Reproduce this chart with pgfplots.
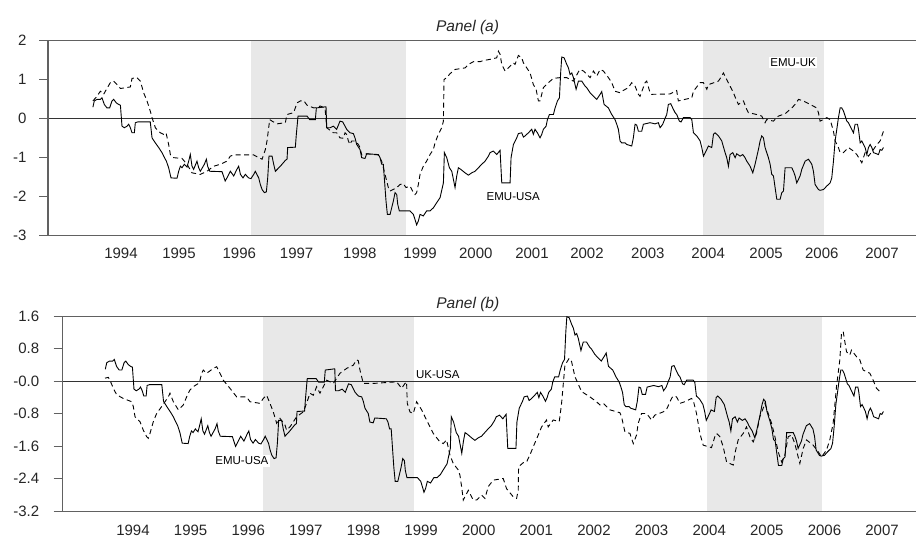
\documentclass[border=0pt]{standalone}
\usepackage{fontspec}
\setmainfont{Liberation Sans}
\usepackage{pgfplots}
\usepackage{pgfplotstable}
\pgfplotsset{compat=1.18}
\definecolor{shadegray}{gray}{0.91}
\definecolor{framegray}{gray}{0.38}

\pgfplotstableread{
x y
1993.52 0.29
1993.544 0.45
1993.59 0.49
1993.647 0.49
1993.675 0.53
1993.715 0.36
1993.76 0.27
1993.806 0.27
1993.846 0.45
1993.875 0.49
1993.92 0.40
1993.96 0.36
1993.99 0.34
1994.017 -0.20
1994.057 -0.24
1994.103 -0.20
1994.131 -0.15
1994.16 -0.24
1994.188 -0.37
1994.228 -0.37
1994.245 -0.11
1994.285 -0.09
1994.50 -0.09
1994.53 -0.50
1994.587 -0.63
1994.644 -0.75
1994.70 -0.88
1994.729 -0.97
1994.775 -1.10
1994.814 -1.27
1994.854 -1.53
1994.957 -1.54
1994.985 -1.36
1995.014 -1.23
1995.042 -1.27
1995.082 -1.18
1995.128 -1.25
1995.156 -1.10
1995.184 -0.93
1995.213 -1.23
1995.241 -1.31
1995.298 -1.10
1995.327 -1.27
1995.355 -1.36
1995.424 -1.18
1995.458 -1.05
1995.48 -1.23
1995.515 -1.36
1995.725 -1.37
1995.78 -1.61
1995.81 -1.53
1995.868 -1.36
1995.925 -1.48
1995.98 -1.31
1996.01 -1.23
1996.04 -1.44
1996.084 -1.53
1996.124 -1.44
1996.18 -1.53
1996.22 -1.55
1996.267 -1.44
1996.295 -1.36
1996.352 -1.53
1996.38 -1.70
1996.41 -1.83
1996.449 -1.91
1996.483 -1.89
1996.506 -1.53
1996.528 -0.97
1996.58 -0.97
1996.608 -1.18
1996.637 -1.36
1996.722 -1.23
1996.807 -1.08
1996.836 -1.05
1996.847 -0.75
1996.978 -0.74
1996.995 -0.41
1997.024 0.06
1997.178 0.06
1997.223 -0.03
1997.32 -0.03
1997.337 0.27
1997.502 0.30
1997.514 -0.24
1997.57 -0.24
1997.628 -0.20
1997.684 -0.28
1997.741 -0.07
1997.787 -0.09
1997.827 -0.20
1997.855 -0.28
1997.912 -0.37
1997.969 -0.39
1997.997 -0.50
1998.026 -0.67
1998.083 -0.80
1998.111 -1.01
1998.168 -1.03
1998.197 -0.91
1998.396 -0.93
1998.425 -1.01
1998.453 -1.18
1998.481 -1.18
1998.51 -1.78
1998.527 -2.13
1998.55 -2.47
1998.596 -2.47
1998.624 -2.30
1998.652 -2.13
1998.681 -1.91
1998.71 -1.96
1998.727 -2.21
1998.755 -2.38
1998.937 -2.38
1998.994 -2.47
1999.022 -2.60
1999.05 -2.74
1999.079 -2.64
1999.108 -2.47
1999.164 -2.51
1999.221 -2.38
1999.278 -2.38
1999.336 -2.30
1999.392 -2.17
1999.45 -2.04
1999.507 -1.66
1999.524 -0.88
1999.564 -1.01
1999.61 -1.27
1999.65 -1.36
1999.678 -1.57
1999.706 -1.78
1999.735 -1.48
1999.763 -1.27
1999.803 -1.31
1999.877 -1.40
1999.934 -1.46
1999.991 -1.40
2000.048 -1.36
2000.105 -1.27
2000.162 -1.18
2000.219 -1.10
2000.276 -0.97
2000.304 -0.88
2000.361 -0.84
2000.418 -0.93
2000.475 -0.82
2000.504 -1.66
2000.646 -1.66
2000.663 -1.01
2000.703 -0.67
2000.76 -0.50
2000.788 -0.39
2000.845 -0.37
2000.874 -0.48
2000.902 -0.45
2000.959 -0.37
2001.016 -0.28
2001.044 -0.41
2001.072 -0.28
2001.113 -0.37
2001.158 -0.50
2001.187 -0.41
2001.215 -0.28
2001.261 -0.20
2001.284 -0.03
2001.318 0.10
2001.386 0.10
2001.415 0.27
2001.455 0.45
2001.489 0.53
2001.512 1.22
2001.529 1.58
2001.569 1.56
2001.614 1.39
2001.643 1.30
2001.671 1.13
2001.70 1.17
2001.728 1.05
2001.774 0.75
2001.814 0.96
2001.871 0.96
2001.927 0.83
2001.956 0.79
2002.013 0.66
2002.07 0.57
2002.127 0.49
2002.184 0.62
2002.212 0.69
2002.252 0.36
2002.326 0.27
2002.383 0.10
2002.439 -0.03
2002.468 -0.15
2002.496 -0.28
2002.525 -0.58
2002.553 -0.63
2002.61 -0.63
2002.638 -0.67
2002.724 -0.71
2002.752 -0.50
2002.781 -0.15
2002.809 -0.17
2002.838 -0.33
2002.895 -0.33
2002.923 -0.15
2003.037 -0.11
2003.122 -0.14
2003.179 -0.11
2003.208 -0.24
2003.253 -0.15
2003.293 0.00
2003.322 0.10
2003.35 0.36
2003.39 0.38
2003.424 0.27
2003.464 0.15
2003.493 0.10
2003.538 -0.07
2003.567 -0.09
2003.607 0.02
2003.721 0.02
2003.75 -0.03
2003.778 -0.37
2003.835 -0.45
2003.892 -0.58
2003.921 -0.75
2003.949 -0.97
2004.006 -0.80
2004.034 -0.71
2004.091 -0.75
2004.12 -0.41
2004.148 -0.37
2004.205 -0.45
2004.262 -0.58
2004.319 -0.88
2004.347 -1.01
2004.376 -1.23
2004.404 -0.93
2004.45 -0.88
2004.49 -1.01
2004.518 -0.91
2004.575 -0.97
2004.621 -0.93
2004.66 -1.01
2004.689 -1.10
2004.746 -1.23
2004.792 -1.40
2004.831 -1.18
2004.888 -0.80
2004.917 -0.58
2004.945 -0.45
2004.974 -0.50
2005.002 -0.75
2005.059 -1.01
2005.088 -1.18
2005.116 -1.44
2005.145 -1.48
2005.173 -1.78
2005.202 -2.08
2005.259 -2.08
2005.287 -1.91
2005.316 -1.87
2005.344 -1.27
2005.458 -1.27
2005.487 -1.36
2005.515 -1.48
2005.543 -1.66
2005.6 -1.48
2005.629 -1.31
2005.686 -1.10
2005.743 -1.05
2005.8 -1.18
2005.828 -1.36
2005.856 -1.70
2005.913 -1.83
2005.942 -1.85
2005.999 -1.83
2006.056 -1.74
2006.113 -1.66
2006.141 -1.53
2006.17 -1.10
2006.198 -0.58
2006.227 -0.28
2006.255 0.02
2006.284 0.27
2006.312 0.27
2006.341 0.19
2006.398 -0.07
2006.426 -0.11
2006.455 -0.20
2006.512 -0.37
2006.54 -0.15
2006.58 -0.15
2006.597 -0.28
2006.626 -0.63
2006.654 -0.58
2006.711 -0.75
2006.74 -0.93
2006.768 -0.75
2006.797 -0.67
2006.825 -0.75
2006.854 -0.88
2006.939 -0.93
2006.967 -0.80
2006.996 -0.82
2007.024 -0.75
}\emuusa

\pgfplotstableread{
x y
1993.52 0.45
1993.59 0.57
1993.647 0.70
1993.704 0.62
1993.732 0.70
1993.818 0.92
1993.875 0.96
1993.932 0.87
1993.99 0.77
1994.16 0.81
1994.188 1.03
1994.273 1.05
1994.33 0.96
1994.387 0.66
1994.444 0.45
1994.50 0.19
1994.53 0.02
1994.587 -0.24
1994.672 -0.37
1994.729 -0.41
1994.769 -0.37
1994.814 -0.67
1994.843 -0.93
1994.90 -1.01
1995.042 -1.03
1995.128 -1.18
1995.213 -1.40
1995.355 -1.44
1995.469 -1.36
1995.583 -1.23
1995.697 -1.18
1995.81 -1.10
1995.868 -0.97
1995.925 -0.94
1996.267 -0.94
1996.352 -1.01
1996.41 -1.05
1996.466 -0.80
1996.494 -0.58
1996.523 -0.24
1996.54 -0.03
1996.58 -0.07
1996.665 -0.14
1996.807 -0.11
1996.836 0.10
1996.95 0.15
1997.007 0.40
1997.064 0.45
1997.12 0.46
1997.178 0.34
1997.292 0.27
1997.377 0.29
1997.40 0.32
1997.485 0.27
1997.514 -0.24
1997.628 -0.37
1997.684 -0.37
1997.741 -0.50
1997.798 -0.51
1997.827 -0.37
1997.855 -0.41
1997.884 -0.58
1997.912 -0.67
1997.94 -0.58
1997.997 -0.58
1998.054 -0.67
1998.083 -0.75
1998.111 -0.94
1998.197 -0.91
1998.396 -0.94
1998.453 -1.10
1998.51 -1.44
1998.567 -1.78
1998.596 -1.87
1998.71 -1.78
1998.766 -1.70
1998.823 -1.68
1998.869 -1.78
1998.937 -1.74
1998.994 -1.91
1999.022 -1.96
1999.05 -1.91
1999.079 -1.70
1999.108 -1.44
1999.164 -1.23
1999.221 -1.10
1999.278 -0.93
1999.336 -0.80
1999.364 -0.63
1999.42 -0.41
1999.478 -0.24
1999.507 -0.07
1999.518 1.00
1999.564 1.05
1999.62 1.15
1999.706 1.26
1999.877 1.30
1999.934 1.39
2000.02 1.46
2000.133 1.46
2000.19 1.49
2000.304 1.52
2000.418 1.56
2000.447 1.73
2000.475 1.65
2000.504 1.39
2000.561 1.22
2000.589 1.26
2000.703 1.43
2000.731 1.39
2000.788 1.62
2000.845 1.56
2000.874 1.43
2000.988 1.17
2001.044 0.87
2001.09 0.75
2001.13 0.45
2001.158 0.45
2001.187 0.62
2001.215 0.79
2001.30 0.92
2001.386 1.03
2001.50 1.05
2001.614 1.05
2001.728 0.96
2001.814 1.20
2001.842 1.26
2001.899 1.22
2002.013 1.05
2002.07 1.22
2002.127 1.09
2002.184 1.26
2002.24 1.22
2002.326 1.05
2002.383 0.92
2002.439 0.70
2002.525 0.66
2002.553 0.70
2002.667 0.79
2002.724 0.92
2002.781 0.83
2002.838 0.62
2002.866 0.57
2002.952 0.92
2002.98 0.96
2003.037 0.66
2003.065 0.62
2003.378 0.63
2003.492 0.72
2003.52 0.45
2003.634 0.49
2003.75 0.53
2003.778 0.70
2003.892 0.92
2003.949 0.92
2004.006 0.75
2004.034 0.87
2004.205 0.96
2004.262 1.09
2004.29 1.17
2004.347 1.00
2004.404 0.83
2004.461 0.66
2004.518 0.45
2004.547 0.36
2004.632 0.45
2004.689 0.23
2004.717 0.15
2004.86 0.10
2004.945 0.06
2005.002 -0.11
2005.03 -0.03
2005.145 -0.07
2005.23 0.06
2005.344 0.12
2005.458 0.27
2005.515 0.36
2005.572 0.49
2005.657 0.45
2005.77 0.36
2005.885 0.27
2005.913 0.15
2005.942 -0.07
2006.056 0.02
2006.113 -0.03
2006.17 -0.33
2006.198 -0.58
2006.255 -0.75
2006.284 -0.88
2006.341 -0.88
2006.426 -0.75
2006.512 -0.84
2006.569 -0.93
2006.654 -1.14
2006.711 -0.88
2006.768 -0.97
2006.854 -0.80
2006.911 -0.67
2006.967 -0.58
2007.024 -0.33
}\emuuk

\pgfplotstableread{
x y
1993.514 0.07
1993.572 0.09
1993.60 0.02
1993.659 -0.18
1993.717 -0.34
1993.832 -0.43
1993.977 -0.51
1994.006 -0.63
1994.035 -0.88
1994.121 -1.00
1994.179 -1.21
1994.237 -1.37
1994.266 -1.41
1994.295 -1.29
1994.353 -1.00
1994.41 -0.80
1994.497 -0.63
1994.555 -0.51
1994.613 -0.39
1994.642 -0.30
1994.70 -0.51
1994.787 -0.71
1994.873 -0.59
1994.931 -0.39
1994.989 -0.22
1995.047 -0.14
1995.134 -0.06
1995.163 0.02
1995.191 0.19
1995.22 0.27
1995.278 0.19
1995.394 0.31
1995.452 0.35
1995.51 0.19
1995.567 0.02
1995.683 -0.18
1995.799 -0.39
1995.972 -0.39
1996.03 -0.51
1996.204 -0.55
1996.261 -0.43
1996.319 -0.35
1996.377 -0.55
1996.435 -0.76
1996.493 -1.04
1996.551 -0.92
1996.637 -1.08
1996.666 -1.21
1996.724 -1.13
1996.84 -0.88
1996.955 -0.76
1997.013 -0.55
1997.071 -0.30
1997.129 -0.35
1997.187 -0.14
1997.245 -0.30
1997.303 -0.14
1997.36 0.02
1997.476 -0.06
1997.592 0.19
1997.708 0.31
1997.823 0.39
1997.881 0.52
1997.91 0.50
1997.939 0.27
1997.997 -0.06
1998.054 -0.06
1998.17 -0.06
1998.575 -0.02
1998.662 -0.18
1998.72 -0.06
1998.748 -0.02
1998.76 -0.55
1998.806 -0.76
1998.864 -0.80
1998.922 -0.51
1999.009 -0.71
1999.095 -0.96
1999.211 -1.29
1999.327 -1.50
1999.385 -1.54
1999.442 -1.45
1999.50 -1.82
1999.558 -2.03
1999.645 -2.19
1999.674 -2.32
1999.703 -2.60
1999.732 -2.93
1999.79 -2.77
1999.819 -2.69
1999.905 -2.93
1999.963 -2.93
2000.05 -2.81
2000.108 -2.89
2000.165 -2.60
2000.252 -2.44
2000.425 -2.40
2000.483 -2.65
2000.599 -2.85
2000.657 -2.89
2000.686 -2.69
2000.692 -2.11
2000.773 -2.01
2000.831 -1.99
2000.889 -1.82
2000.946 -1.62
2001.033 -1.33
2001.091 -1.13
2001.177 -0.96
2001.206 -1.13
2001.293 -0.96
2001.397 -1.00
2001.409 -0.88
2001.438 -0.55
2001.496 0.39
2001.571 0.56
2001.611 0.48
2001.669 0.11
2001.785 -0.26
2001.929 -0.39
2002.045 -0.51
2002.103 -0.59
2002.161 -0.55
2002.277 -0.71
2002.45 -0.78
2002.479 -0.88
2002.537 -1.25
2002.624 -1.29
2002.682 -1.54
2002.739 -1.33
2002.768 -1.04
2002.826 -0.80
2002.913 -0.80
2003.0 -0.96
2003.057 -0.84
2003.202 -0.76
2003.26 -0.70
2003.346 -0.43
2003.375 -0.37
2003.433 -0.39
2003.491 -0.55
2003.578 -0.51
2003.693 -0.43
2003.722 -0.47
2003.78 -0.80
2003.838 -1.29
2003.896 -1.58
2004.04 -1.64
2004.098 -1.37
2004.127 -1.29
2004.185 -1.37
2004.243 -1.62
2004.301 -1.99
2004.417 -2.07
2004.446 -1.78
2004.503 -1.45
2004.59 -1.29
2004.648 -1.13
2004.706 -1.37
2004.764 -1.50
2004.821 -1.29
2004.879 -0.88
2004.937 -0.67
2004.966 -0.55
2005.024 -0.80
2005.082 -1.04
2005.14 -1.37
2005.197 -1.74
2005.255 -1.99
2005.313 -1.82
2005.371 -1.37
2005.429 -1.33
2005.486 -1.54
2005.573 -2.03
2005.631 -1.66
2005.689 -1.45
2005.804 -1.58
2005.891 -1.74
2005.949 -1.87
2006.036 -1.70
2006.093 -1.45
2006.151 -1.04
2006.209 -0.14
2006.267 0.52
2006.296 1.18
2006.325 1.22
2006.383 0.72
2006.441 0.64
2006.469 0.76
2006.556 0.60
2006.614 0.52
2006.672 0.27
2006.788 0.19
2006.845 0.02
2006.903 -0.18
2006.961 -0.26
}\ukusa

\pgfplotsset{
  panel/.style={
    scale only axis,
    clip=false,
    axis line style={draw=none},
    tick align=outside,
    major tick length=9pt,
    ytick style={draw=framegray, line width=1pt},
    xtick style={draw=none},
    tick label style={font=\fontsize{15}{18}\selectfont, text=black!85},
  },
  solidser/.style={black, line width=0.9pt},
  dashser/.style={black, line width=0.9pt, dash pattern=on 5pt off 3.5pt},
}
\tikzset{
  lbl/.style={fill=white, inner sep=1.5pt, font=\fontsize{11.5}{13}\selectfont},
  ttl/.style={anchor=base, font=\fontsize{15.5}{18}\selectfont\itshape, text=black!85},
}

\begin{document}
\begin{tikzpicture}
\useasboundingbox (0,0) rectangle (916pt,-538pt);

% ---------------- Panel (a) ----------------
\begin{axis}[panel,
  at={(48pt,-40.7pt)}, anchor=north west,
  width=868pt, height=194.3pt,
  xmin=1992.753, xmax=2007.58, ymin=-3, ymax=2,
  ytick={-3,-2,-1,0,1,2},
  yticklabels={-3,-2,-1,0,1,2},
  xtick={1994,1994.99,1996.02,1997.0,1998.08,1999.11,2000.06,2001.02,2001.96,2003.0,2004.03,2005.02,2005.97,2007.0},
  xticklabels={1994,1995,1996,1997,1998,1999,2000,2001,2002,2003,2004,2005,2006,2007},
  yticklabel style={xshift=-9pt},
  xticklabel style={inner sep=0.5pt, yshift=-3.5pt},
]
\addplot[fill=shadegray, draw=none] coordinates {(1996.22,-3) (1996.22,2) (1998.87,2) (1998.87,-3)} -- cycle;
\addplot[fill=shadegray, draw=none] coordinates {(2003.94,-3) (2003.94,2) (2006.0,2) (2006.0,-3)} -- cycle;
\addplot[black!80, line width=0.9pt] coordinates {(1992.753,0) (2007.58,0)};
\draw[framegray, line width=1pt] (rel axis cs:0,1) -- (rel axis cs:1,1);
\draw[framegray, line width=1pt] (rel axis cs:0,0) -- (rel axis cs:1,0);
\draw[framegray, line width=1.2pt] (rel axis cs:0,0) -- (rel axis cs:0,1);
\addplot[dashser] table[x=x, y=y] {\emuuk};
\addplot[solidser] table[x=x, y=y] {\emuusa};
\node[lbl] at (axis cs:2000.70,-2.02) {EMU-USA};
\node[lbl] at (axis cs:2005.48,1.43) {EMU-UK};
\node[ttl] at (axis cs:1999.92,2) [yshift=9pt] {Panel (a)};
\end{axis}

% ---------------- Panel (b) ----------------
\begin{axis}[panel,
  at={(62.7pt,-316pt)}, anchor=north west,
  width=853.3pt, height=195pt,
  xmin=1992.78, xmax=2007.589, ymin=-3.2, ymax=1.6,
  ytick={-3.2,-2.4,-1.6,-0.8,0,0.8,1.6},
  yticklabels={-3.2,-2.4,-1.6,-0.8,-0.0,0.8,1.6},
  xtick={1994,1995,1996,1997,1998,1999,2000,2001,2002,2003,2004,2005,2006,2007},
  xticklabels={1994,1995,1996,1997,1998,1999,2000,2001,2002,2003,2004,2005,2006,2007},
  yticklabel style={xshift=-11pt},
  xticklabel style={inner sep=0.5pt, yshift=-4pt},
]
\addplot[fill=shadegray, draw=none] coordinates {(1996.26,-3.2) (1996.26,1.6) (1998.88,1.6) (1998.88,-3.2)} -- cycle;
\addplot[fill=shadegray, draw=none] coordinates {(2003.97,-3.2) (2003.97,1.6) (2005.96,1.6) (2005.96,-3.2)} -- cycle;
\addplot[black!80, line width=0.9pt] coordinates {(1992.78,0) (2007.589,0)};
\draw[framegray, line width=1pt] (rel axis cs:0,1) -- (rel axis cs:1,1);
\draw[framegray, line width=1pt] (rel axis cs:0,0) -- (rel axis cs:1,0);
\draw[framegray, line width=1.2pt] (rel axis cs:0,0) -- (rel axis cs:0,1);
\addplot[dashser] table[x=x, y=y] {\ukusa};
\addplot[solidser] table[x=x, y=y] {\emuusa};
\node[lbl] at (axis cs:1999.29,0.17) {UK-USA};
\node[lbl] at (axis cs:1995.89,-1.97) {EMU-USA};
\node[ttl] at (axis cs:1999.81,1.6) [yshift=8pt] {Panel (b)};
\end{axis}
\end{tikzpicture}
\end{document}
